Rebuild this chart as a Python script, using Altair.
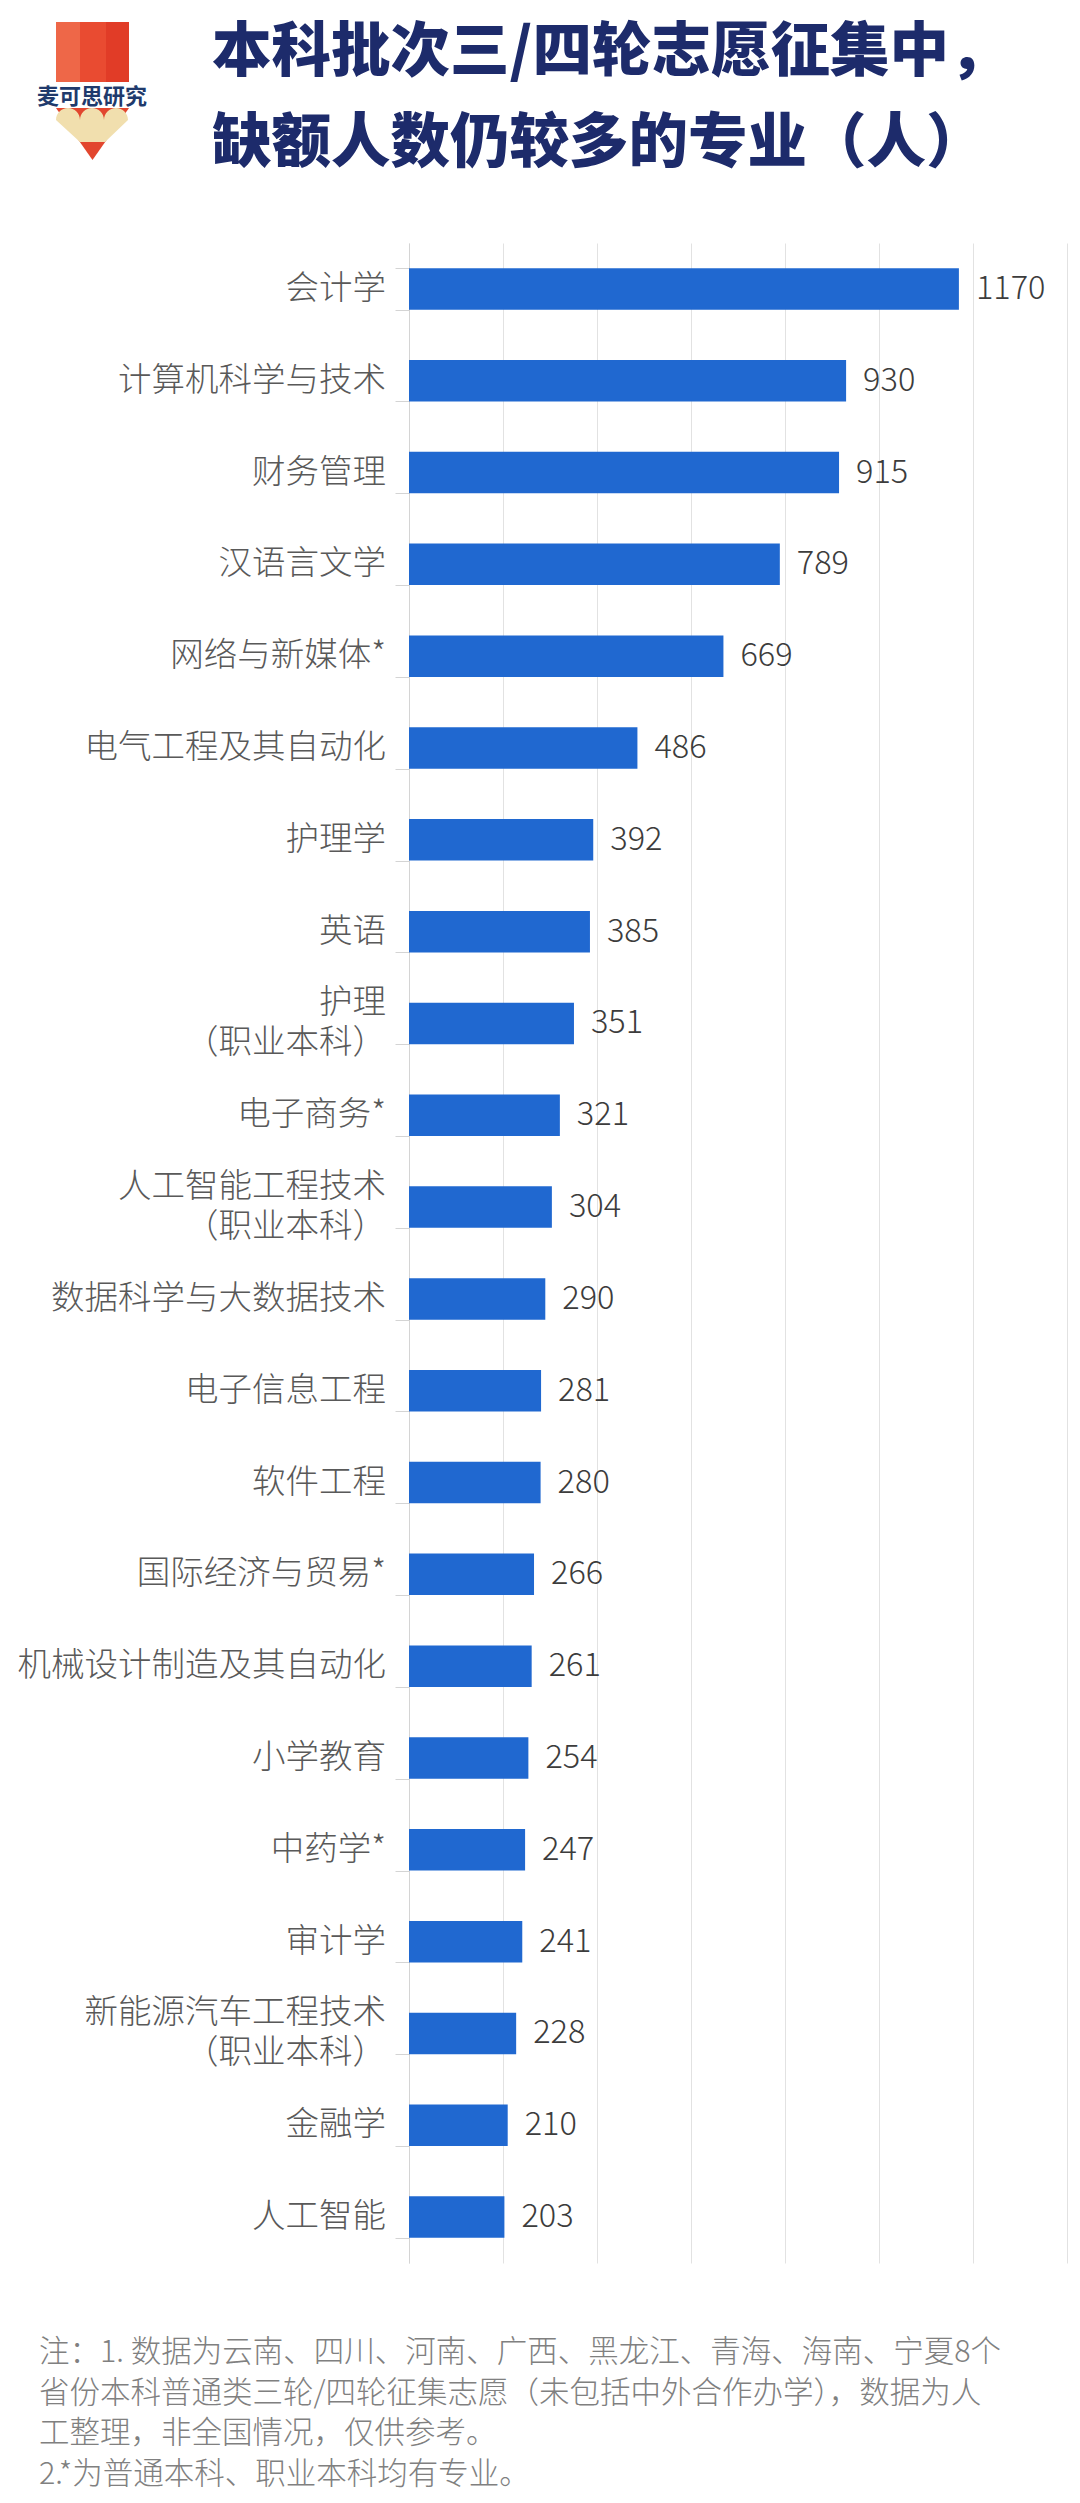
import altair as alt
import pandas as pd

# ---------------- data ----------------
majors = [
    "会计学", "计算机科学与技术", "财务管理", "汉语言文学", "网络与新媒体*",
    "电气工程及其自动化", "护理学", "英语", "护理\n（职业本科）", "电子商务*",
    "人工智能工程技术\n（职业本科）", "数据科学与大数据技术", "电子信息工程", "软件工程",
    "国际经济与贸易*", "机械设计制造及其自动化", "小学教育", "中药学*", "审计学",
    "新能源汽车工程技术\n（职业本科）", "金融学", "人工智能",
]
shortfall = [1170, 930, 915, 789, 669, 486, 392, 385, 351, 321, 304, 290, 281, 280,
             266, 261, 254, 247, 241, 228, 210, 203]
x_ticks = [0, 200, 400, 600, 800, 1000, 1200, 1400]

title_lines = ["本科批次三/四轮志愿征集中，", "缺额人数仍较多的专业（人）"]
logo_text = "麦可思研究"
note_lines = [
    "注：1. 数据为云南、四川、河南、广西、黑龙江、青海、海南、宁夏8个",
    "省份本科普通类三轮/四轮征集志愿（未包括中外合作办学），数据为人",
    "工整理，非全国情况，仅供参考。",
    "2.*为普通本科、职业本科均有专业。",
]

df = pd.DataFrame({"major": majors, "value": shortfall})

FONT = "Noto Sans CJK SC"
BLUE = "#2068d0"
NAVY = "#1d2b6b"
LABEL_COLOR = "#595959"

y_enc = alt.Y(
    "major:N",
    sort=majors,
    title=None,
    scale=alt.Scale(paddingInner=0.548, paddingOuter=0.274),
    axis=alt.Axis(
        domainColor="#d4d4d4",
        tickColor="#d4d4d4",
        tickSize=14,
        tickBand="extent",
        labels=False,
        grid=False,
    ),
)
x_enc = alt.X(
    "value:Q",
    title=None,
    scale=alt.Scale(domain=[0, 1400], nice=False, zero=True),
    axis=alt.Axis(values=x_ticks, labels=False, ticks=False, domain=False,
                  grid=True, gridColor="#e2e2e2", gridWidth=1),
)
y_plain = alt.Y("major:N", sort=majors)

base = alt.Chart(df)
bars = base.mark_bar(color=BLUE).encode(x=x_enc, y=y_enc)
vals = base.mark_text(align="left", baseline="middle", dx=17, font=FONT,
                      fontSize=32.5, fontWeight=300, color="#3c3c3c").encode(
    x=alt.X("value:Q"), y=y_plain, text=alt.Text("value:Q"))

# category labels (single line)
labels_1 = base.transform_filter("indexof(datum.major, '\\n') < 0").mark_text(
    align="right", baseline="middle", font=FONT, fontSize=33.5, fontWeight=300,
    color=LABEL_COLOR,
).encode(x=alt.value(-23), y=y_plain, text="major:N")

# category labels (two lines, short first line centred over the second)
labels_2 = base.transform_filter("indexof(datum.major, '\\n') >= 0").transform_calculate(
    lab="pad(split(datum.major, '\\n')[0], length(split(datum.major, '\\n')[1]), '\u3000', 'center')"
        " + '\\n' + split(datum.major, '\\n')[1]"
).mark_text(
    align="right", baseline="middle", font=FONT, fontSize=33.5, fontWeight=300,
    color=LABEL_COLOR, lineBreak="\n", lineHeight=40, dy=-20,
).encode(x=alt.value(-23), y=y_plain, text="lab:N")

one = pd.DataFrame({"k": [0]})

title = alt.Chart(one).mark_text(
    text=title_lines, align="left", baseline="middle", font=FONT, fontSize=59.5,
    fontWeight=900, color=NAVY, lineHeight=91,
).encode(x=alt.value(-197), y=alt.value(-190))

notes = alt.Chart(one).mark_text(
    text=note_lines, align="left", baseline="middle", font=FONT, fontSize=30.5,
    fontWeight=300, color="#808080", lineHeight=40.5,
).encode(x=alt.value(-370), y=alt.value(2110))

# logo (pencil) decoration, paths in pixel offsets around the logo centre
LX, LY = -317, -152
logo_parts = [
    ("M-36,-69H-12V-9H-36Z", "#ee6748"),
    ("M-12,-69H14V-9H-12Z", "#e94b31"),
    ("M14,-69H37V-9H14Z", "#e13c27"),
    ("M-36,17L37,17L0.5,69Z", "#e2462e"),
    ("M-36,29A12,12 0 0 1 -12,29A12,12 0 0 1 12,29A12,12 0 0 1 36,29L13,51L-12,51Z", "#f1dfae"),
]
logo_layers = []
for path, col in logo_parts:
    logo_layers.append(
        alt.Chart(one).mark_point(shape=path, size=4, filled=True, opacity=1,
                                  strokeWidth=0, color=col)
        .encode(x=alt.value(LX), y=alt.value(LY))
    )
logo_label = alt.Chart(one).mark_text(
    text=logo_text, align="center", baseline="middle", font=FONT, fontSize=22,
    fontWeight="bold", color="#203a6c",
).encode(x=alt.value(LX), y=alt.value(-146))

chart = alt.layer(bars, vals, labels_1, labels_2, title, notes, *logo_layers,
                  logo_label).properties(
    width=658,
    height=2020,
    autosize="none",
    padding={"left": 401, "top": 235, "right": 5, "bottom": 232},
    background="white",
).configure_view(strokeWidth=0)

chart.save("out.html", embed_options={"renderer": "svg", "actions": False})
